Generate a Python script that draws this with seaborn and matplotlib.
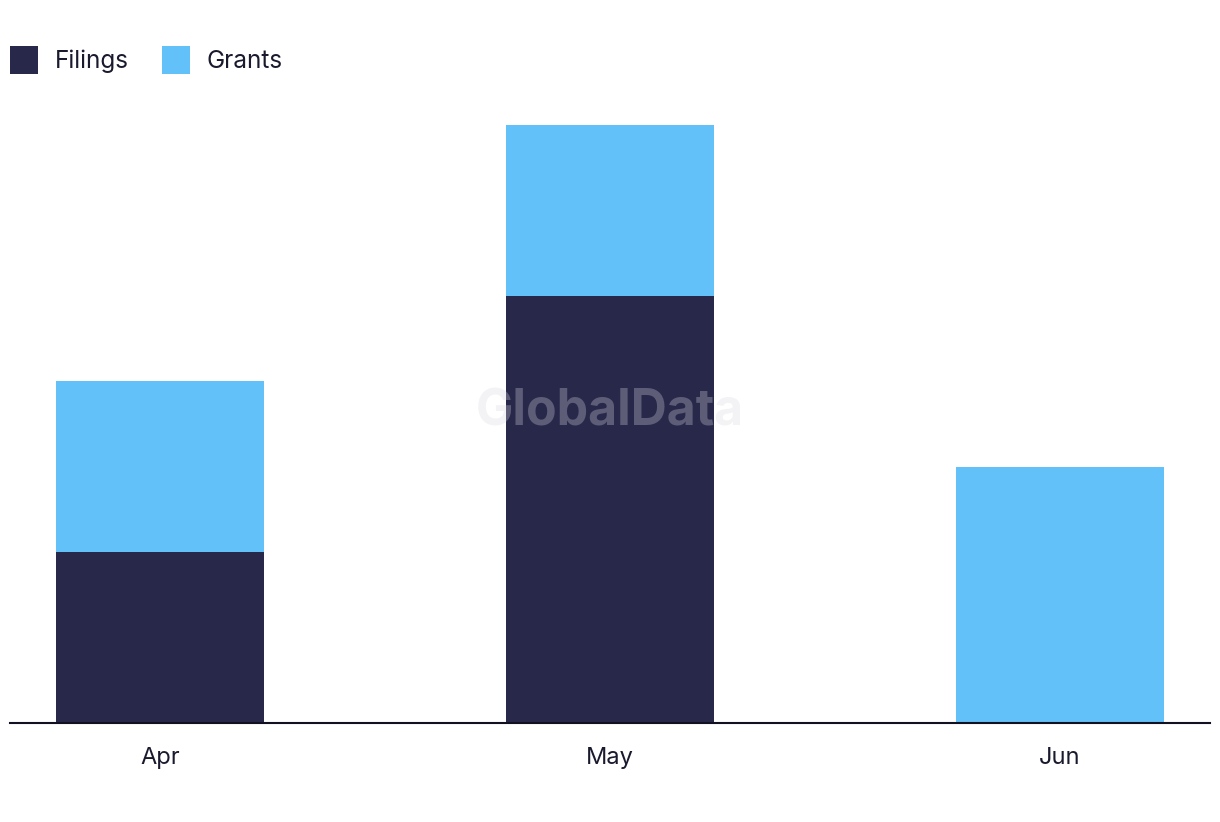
import matplotlib
matplotlib.use("Agg")
import matplotlib.pyplot as plt
import seaborn as sns
import pandas as pd
from matplotlib.patches import Patch

months = ["Apr", "May", "Jun"]
filings = [2, 5, 0]
grants = [2, 2, 3]
series_names = ["Filings", "Grants"]

dark = "#28284b"
light = "#62c1f9"

sns.set_theme(style="white")
plt.rcParams["font.family"] = ["Inter", "DejaVu Sans"]

totals = [f + g for f, g in zip(filings, grants)]
df = pd.DataFrame({"month": months, "filings": filings, "total": totals})

fig = plt.figure(figsize=(12.2, 8.22), dpi=100)
ax = fig.add_axes([10 / 1220, 1 - 723 / 822, 1200 / 1220, 640.5 / 822])

sns.barplot(data=df, x="month", y="total", color=light, width=0.462, ax=ax,
            saturation=1, linewidth=0)
sns.barplot(data=df, x="month", y="filings", color=dark, width=0.462, ax=ax,
            saturation=1, linewidth=0)

ax.set_xlim(-150 / 450, 1050 / 450)
ax.set_ylim(0, 7.5)
ax.set_xlabel("")
ax.set_ylabel("")
ax.set_yticks([])
for s in ["top", "right", "left"]:
    ax.spines[s].set_visible(False)
ax.spines["bottom"].set_color("#111122")
ax.spines["bottom"].set_linewidth(1.5)
ax.tick_params(axis="x", length=0, pad=17, labelsize=17, labelcolor="#1a1a2e")

ax.text(0.5, 1 - 412 / 822, "GlobalData", transform=fig.transFigure, ha="center", va="center",
        fontsize=36, fontweight="bold", color="#d8d8e0", alpha=0.3, zorder=10)

handles = [Patch(facecolor=dark, edgecolor="none"), Patch(facecolor=light, edgecolor="none")]
fig.legend(handles, series_names, loc="upper left", bbox_to_anchor=(10 / 1220, 1 - 46 / 822),
           ncol=2, frameon=False, fontsize=17.5, handlelength=1.15, handleheight=1.4,
           handletextpad=0.7, columnspacing=1.35, labelcolor="#1a1a2e",
           borderpad=0, borderaxespad=0)

fig.savefig("out.png", dpi=100)
